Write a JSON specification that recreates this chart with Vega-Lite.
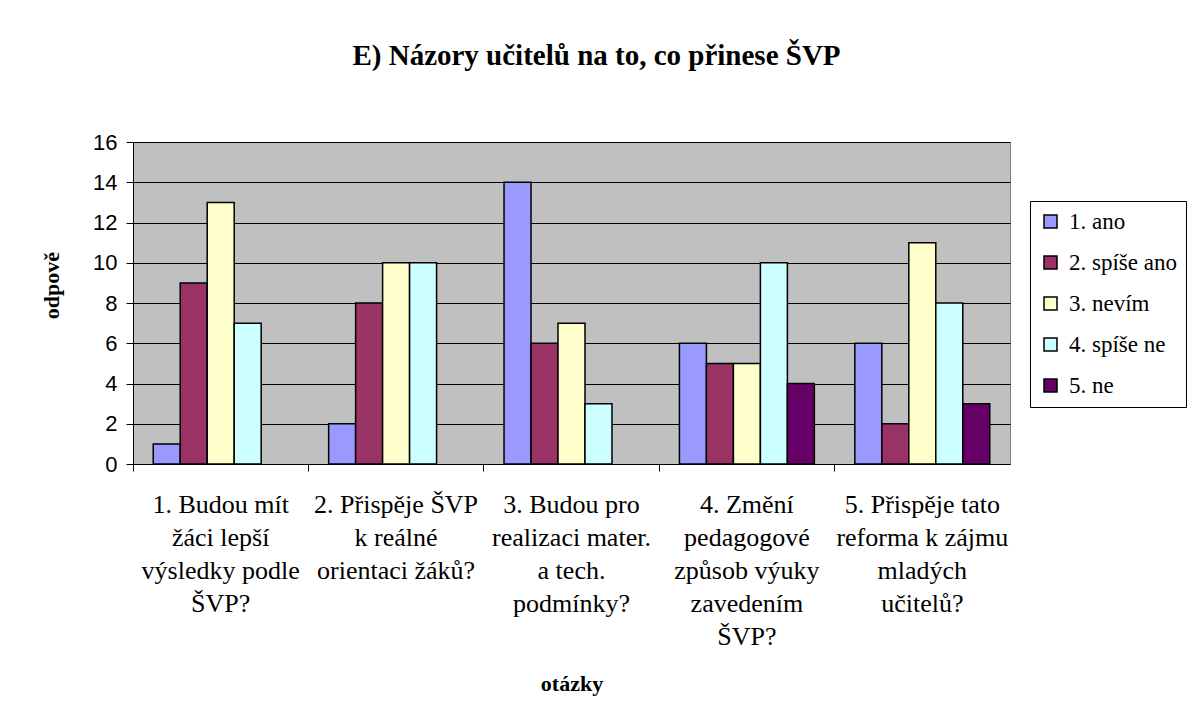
{
  "$schema": "https://vega.github.io/schema/vega-lite/v6.json",
  "width": 877,
  "height": 322,
  "autosize": "none",
  "padding": {"left": 133, "top": 142, "right": 179, "bottom": 253},
  "background": "white",
  "title": {
    "text": "E) Názory učitelů na to, co přinese ŠVP",
    "font": "Times New Roman, Liberation Serif, serif",
    "fontSize": 29,
    "fontWeight": "bold",
    "color": "black",
    "anchor": "middle",
    "dx": 25,
    "offset": 60
  },
  "data": {
    "values": [
      {"otazka": "1. Budou mít|žáci lepší|výsledky podle|ŠVP?", "odpoved": "1. ano", "pocet": 1},
      {"otazka": "1. Budou mít|žáci lepší|výsledky podle|ŠVP?", "odpoved": "2. spíše ano", "pocet": 9},
      {"otazka": "1. Budou mít|žáci lepší|výsledky podle|ŠVP?", "odpoved": "3. nevím", "pocet": 13},
      {"otazka": "1. Budou mít|žáci lepší|výsledky podle|ŠVP?", "odpoved": "4. spíše ne", "pocet": 7},
      {"otazka": "2. Přispěje ŠVP|k reálné|orientaci žáků?", "odpoved": "1. ano", "pocet": 2},
      {"otazka": "2. Přispěje ŠVP|k reálné|orientaci žáků?", "odpoved": "2. spíše ano", "pocet": 8},
      {"otazka": "2. Přispěje ŠVP|k reálné|orientaci žáků?", "odpoved": "3. nevím", "pocet": 10},
      {"otazka": "2. Přispěje ŠVP|k reálné|orientaci žáků?", "odpoved": "4. spíše ne", "pocet": 10},
      {"otazka": "3. Budou pro|realizaci  mater.|a tech.|podmínky?", "odpoved": "1. ano", "pocet": 14},
      {"otazka": "3. Budou pro|realizaci  mater.|a tech.|podmínky?", "odpoved": "2. spíše ano", "pocet": 6},
      {"otazka": "3. Budou pro|realizaci  mater.|a tech.|podmínky?", "odpoved": "3. nevím", "pocet": 7},
      {"otazka": "3. Budou pro|realizaci  mater.|a tech.|podmínky?", "odpoved": "4. spíše ne", "pocet": 3},
      {"otazka": "4. Změní|pedagogové|způsob výuky|zavedením|ŠVP?", "odpoved": "1. ano", "pocet": 6},
      {"otazka": "4. Změní|pedagogové|způsob výuky|zavedením|ŠVP?", "odpoved": "2. spíše ano", "pocet": 5},
      {"otazka": "4. Změní|pedagogové|způsob výuky|zavedením|ŠVP?", "odpoved": "3. nevím", "pocet": 5},
      {"otazka": "4. Změní|pedagogové|způsob výuky|zavedením|ŠVP?", "odpoved": "4. spíše ne", "pocet": 10},
      {"otazka": "4. Změní|pedagogové|způsob výuky|zavedením|ŠVP?", "odpoved": "5. ne", "pocet": 4},
      {"otazka": "5. Přispěje tato|reforma k zájmu|mladých|učitelů?", "odpoved": "1. ano", "pocet": 6},
      {"otazka": "5. Přispěje tato|reforma k zájmu|mladých|učitelů?", "odpoved": "2. spíše ano", "pocet": 2},
      {"otazka": "5. Přispěje tato|reforma k zájmu|mladých|učitelů?", "odpoved": "3. nevím", "pocet": 11},
      {"otazka": "5. Přispěje tato|reforma k zájmu|mladých|učitelů?", "odpoved": "4. spíše ne", "pocet": 8},
      {"otazka": "5. Přispěje tato|reforma k zájmu|mladých|učitelů?", "odpoved": "5. ne", "pocet": 3}
    ]
  },
  "mark": {"type": "bar", "stroke": "black", "strokeWidth": 1.5},
  "encoding": {
    "x": {
      "field": "otazka",
      "type": "nominal",
      "sort": null,
      "scale": {"paddingInner": 0, "paddingOuter": 0},
      "axis": {
        "title": "otázky",
        "titleFont": "Times New Roman, Liberation Serif, serif",
        "titleFontSize": 22,
        "titleFontWeight": "bold",
        "titleColor": "black",
        "titleY": 226,
        "titleBaseline": "alphabetic",
        "labelExpr": "split(datum.value, '|')",
        "labelAngle": 0,
        "labelFont": "Times New Roman, Liberation Serif, serif",
        "labelFontSize": 26,
        "labelLineHeight": 33,
        "labelColor": "black",
        "labelPadding": 20,
        "labelLimit": 0,
        "bandPosition": 0,
        "tickSize": 7,
        "tickColor": "black",
        "domainColor": "black",
        "domainWidth": 1
      }
    },
    "xOffset": {
      "field": "odpoved",
      "type": "nominal",
      "scale": {"domain": ["1. ano", "2. spíše ano", "3. nevím", "4. spíše ne", "5. ne"], "paddingInner": 0, "paddingOuter": 0.75}
    },
    "y": {
      "field": "pocet",
      "type": "quantitative",
      "scale": {"domain": [0, 16], "nice": false},
      "axis": {
        "values": [0, 2, 4, 6, 8, 10, 12, 14, 16],
        "title": "odpově",
        "titleFont": "Times New Roman, Liberation Serif, serif",
        "titleFontSize": 22,
        "titleFontWeight": "bold",
        "titleColor": "black",
        "titleX": -70,
        "titleY": 143,
        "labelFont": "Arial, Liberation Sans, sans-serif",
        "labelFontSize": 22,
        "labelColor": "black",
        "labelPadding": 9,
        "tickSize": 7,
        "tickColor": "black",
        "domainColor": "black",
        "grid": true,
        "gridColor": "black",
        "gridWidth": 1
      }
    },
    "color": {
      "field": "odpoved",
      "type": "nominal",
      "scale": {
        "domain": ["1. ano", "2. spíše ano", "3. nevím", "4. spíše ne", "5. ne"],
        "range": ["#9999FF", "#993366", "#FFFFCC", "#CCFFFF", "#660066"]
      },
      "legend": {
        "title": null,
        "orient": "none",
        "legendX": 897,
        "legendY": 59,
        "strokeColor": "black",
        "fillColor": "white",
        "padding": 9,
        "symbolType": "square",
        "symbolSize": 169,
        "symbolStrokeColor": "black",
        "symbolStrokeWidth": 1.5,
        "symbolOpacity": 1,
        "labelFont": "Times New Roman, Liberation Serif, serif",
        "labelFontSize": 23,
        "labelColor": "black",
        "labelOffset": 7,
        "rowPadding": 17,
        "labelLimit": 0
      }
    }
  },
  "config": {
    "view": {"fill": "#C0C0C0", "stroke": "#808080", "strokeWidth": 1}
  }
}
